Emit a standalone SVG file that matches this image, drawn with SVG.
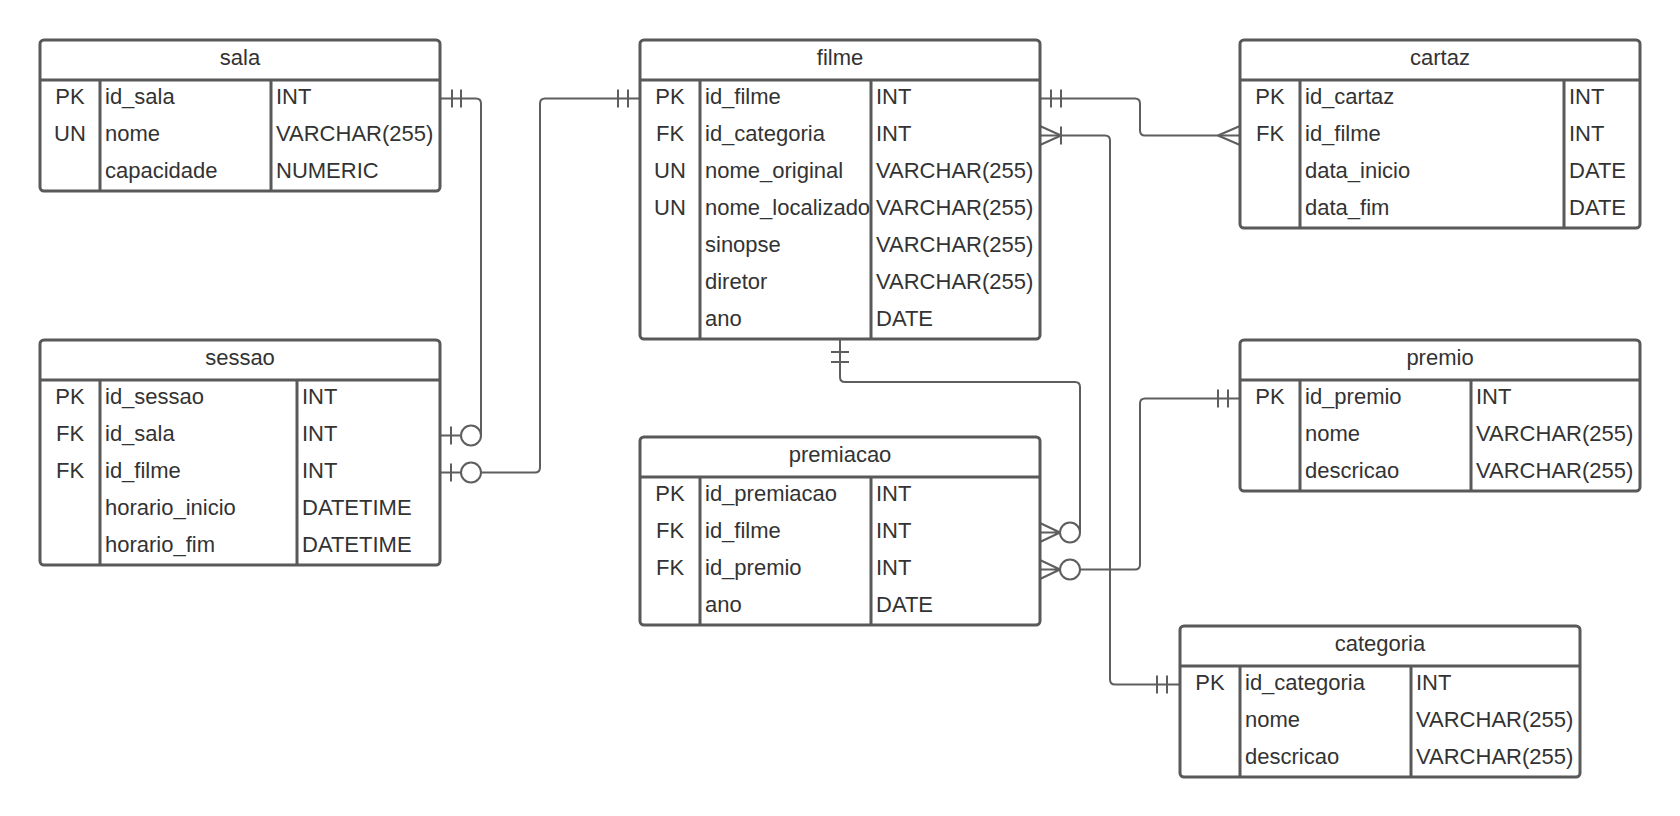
<svg xmlns="http://www.w3.org/2000/svg" width="1680" height="816" viewBox="0 0 1680 816">
  <style>
    .box { fill: #ffffff; stroke: #595959; stroke-width: 3; }
    .sep { stroke: #595959; stroke-width: 3; fill: none; }
    .t { font-family: "Liberation Sans", Arial, sans-serif; font-size: 22px; fill: #333333; }
    .mid { text-anchor: middle; }
    .ln { fill: none; stroke: #5e5e5e; stroke-width: 2; stroke-linejoin: round; }
    .end { fill: #ffffff; stroke: #5e5e5e; stroke-width: 2; }
  </style>

  <!-- relationship lines -->
  <g id="connectors">
    <!-- sala.id_sala 1 : 0..1 sessao.id_sala -->
    <path class="ln" d="M440 98.5 H476 Q481 98.5 481 103.5 V435.5"/>
    <path class="ln" d="M452 89.5 V107.5 M461 89.5 V107.5"/>
    <path class="ln" d="M440 435.5 H461 M451 426.5 V444.5"/>
    <circle class="end" cx="471" cy="435.5" r="10"/>

    <!-- filme.id_filme 1 : 0..1 sessao.id_filme -->
    <path class="ln" d="M481 472.5 H535 Q540 472.5 540 467.5 V103.5 Q540 98.5 545 98.5 H640"/>
    <path class="ln" d="M618 89.5 V107.5 M628 89.5 V107.5"/>
    <path class="ln" d="M440 472.5 H461 M451 463.5 V481.5"/>
    <circle class="end" cx="471" cy="472.5" r="10"/>

    <!-- filme.id_filme 1 : N cartaz.id_filme -->
    <path class="ln" d="M1040 98.5 H1135 Q1140 98.5 1140 103.5 V130.5 Q1140 135.5 1145 135.5 H1240"/>
    <path class="ln" d="M1051 89.5 V107.5 M1061 89.5 V107.5"/>
    <path class="ln" d="M1218 135.5 L1240 126 M1218 135.5 L1240 145"/>

    <!-- categoria.id_categoria 1 : 1..N filme.id_categoria -->
    <path class="ln" d="M1040 135.5 H1105 Q1110 135.5 1110 140.5 V679.5 Q1110 684.5 1115 684.5 H1180"/>
    <path class="ln" d="M1061 126.5 V144.5 M1061 135.5 L1040 126 M1061 135.5 L1040 145"/>
    <path class="ln" d="M1157 675.5 V693.5 M1167 675.5 V693.5"/>

    <!-- filme 1 : 0..N premiacao.id_filme -->
    <path class="ln" d="M840 339 V377 Q840 382 845 382 H1075 Q1080 382 1080 387 V532.5"/>
    <path class="ln" d="M831 352 H849 M831 362 H849"/>
    <path class="ln" d="M1040 532.5 H1060 M1060 532.5 L1040 523 M1060 532.5 L1040 542"/>
    <circle class="end" cx="1070" cy="532.5" r="10"/>

    <!-- premio.id_premio 1 : 0..N premiacao.id_premio -->
    <path class="ln" d="M1080 569.5 H1135 Q1140 569.5 1140 564.5 V403.5 Q1140 398.5 1145 398.5 H1240"/>
    <path class="ln" d="M1218 389.5 V407.5 M1228 389.5 V407.5"/>
    <path class="ln" d="M1040 569.5 H1060 M1060 569.5 L1040 560 M1060 569.5 L1040 579"/>
    <circle class="end" cx="1070" cy="569.5" r="10"/>
  </g>

  <!-- sala -->
  <g id="sala">
    <rect class="box" x="40" y="40" width="400" height="151" rx="4"/>
    <path class="sep" d="M40 80 H440 M100 80 V191 M271 80 V191"/>
    <text class="t mid" x="240" y="65">sala</text>
    <text class="t mid" x="70" y="104">PK</text>
    <text class="t" x="105" y="104">id_sala</text>
    <text class="t" x="276" y="104">INT</text>
    <text class="t mid" x="70" y="141">UN</text>
    <text class="t" x="105" y="141">nome</text>
    <text class="t" x="276" y="141">VARCHAR(255)</text>
    <text class="t" x="105" y="178">capacidade</text>
    <text class="t" x="276" y="178">NUMERIC</text>
  </g>

  <!-- sessao -->
  <g id="sessao">
    <rect class="box" x="40" y="340" width="400" height="225" rx="4"/>
    <path class="sep" d="M40 380 H440 M100 380 V565 M297 380 V565"/>
    <text class="t mid" x="240" y="365">sessao</text>
    <text class="t mid" x="70" y="404">PK</text>
    <text class="t" x="105" y="404">id_sessao</text>
    <text class="t" x="302" y="404">INT</text>
    <text class="t mid" x="70" y="441">FK</text>
    <text class="t" x="105" y="441">id_sala</text>
    <text class="t" x="302" y="441">INT</text>
    <text class="t mid" x="70" y="478">FK</text>
    <text class="t" x="105" y="478">id_filme</text>
    <text class="t" x="302" y="478">INT</text>
    <text class="t" x="105" y="515">horario_inicio</text>
    <text class="t" x="302" y="515">DATETIME</text>
    <text class="t" x="105" y="552">horario_fim</text>
    <text class="t" x="302" y="552">DATETIME</text>
  </g>

  <!-- filme -->
  <g id="filme">
    <rect class="box" x="640" y="40" width="400" height="299" rx="4"/>
    <path class="sep" d="M640 80 H1040 M700 80 V339 M871 80 V339"/>
    <text class="t mid" x="840" y="65">filme</text>
    <text class="t mid" x="670" y="104">PK</text>
    <text class="t" x="705" y="104">id_filme</text>
    <text class="t" x="876" y="104">INT</text>
    <text class="t mid" x="670" y="141">FK</text>
    <text class="t" x="705" y="141">id_categoria</text>
    <text class="t" x="876" y="141">INT</text>
    <text class="t mid" x="670" y="178">UN</text>
    <text class="t" x="705" y="178">nome_original</text>
    <text class="t" x="876" y="178">VARCHAR(255)</text>
    <text class="t mid" x="670" y="215">UN</text>
    <text class="t" x="705" y="215">nome_localizado</text>
    <text class="t" x="876" y="215">VARCHAR(255)</text>
    <text class="t" x="705" y="252">sinopse</text>
    <text class="t" x="876" y="252">VARCHAR(255)</text>
    <text class="t" x="705" y="289">diretor</text>
    <text class="t" x="876" y="289">VARCHAR(255)</text>
    <text class="t" x="705" y="326">ano</text>
    <text class="t" x="876" y="326">DATE</text>
  </g>

  <!-- premiacao -->
  <g id="premiacao">
    <rect class="box" x="640" y="437" width="400" height="188" rx="4"/>
    <path class="sep" d="M640 477 H1040 M700 477 V625 M871 477 V625"/>
    <text class="t mid" x="840" y="462">premiacao</text>
    <text class="t mid" x="670" y="501">PK</text>
    <text class="t" x="705" y="501">id_premiacao</text>
    <text class="t" x="876" y="501">INT</text>
    <text class="t mid" x="670" y="538">FK</text>
    <text class="t" x="705" y="538">id_filme</text>
    <text class="t" x="876" y="538">INT</text>
    <text class="t mid" x="670" y="575">FK</text>
    <text class="t" x="705" y="575">id_premio</text>
    <text class="t" x="876" y="575">INT</text>
    <text class="t" x="705" y="612">ano</text>
    <text class="t" x="876" y="612">DATE</text>
  </g>

  <!-- cartaz -->
  <g id="cartaz">
    <rect class="box" x="1240" y="40" width="400" height="188" rx="4"/>
    <path class="sep" d="M1240 80 H1640 M1300 80 V228 M1564 80 V228"/>
    <text class="t mid" x="1440" y="65">cartaz</text>
    <text class="t mid" x="1270" y="104">PK</text>
    <text class="t" x="1305" y="104">id_cartaz</text>
    <text class="t" x="1569" y="104">INT</text>
    <text class="t mid" x="1270" y="141">FK</text>
    <text class="t" x="1305" y="141">id_filme</text>
    <text class="t" x="1569" y="141">INT</text>
    <text class="t" x="1305" y="178">data_inicio</text>
    <text class="t" x="1569" y="178">DATE</text>
    <text class="t" x="1305" y="215">data_fim</text>
    <text class="t" x="1569" y="215">DATE</text>
  </g>

  <!-- premio -->
  <g id="premio">
    <rect class="box" x="1240" y="340" width="400" height="151" rx="4"/>
    <path class="sep" d="M1240 380 H1640 M1300 380 V491 M1471 380 V491"/>
    <text class="t mid" x="1440" y="365">premio</text>
    <text class="t mid" x="1270" y="404">PK</text>
    <text class="t" x="1305" y="404">id_premio</text>
    <text class="t" x="1476" y="404">INT</text>
    <text class="t" x="1305" y="441">nome</text>
    <text class="t" x="1476" y="441">VARCHAR(255)</text>
    <text class="t" x="1305" y="478">descricao</text>
    <text class="t" x="1476" y="478">VARCHAR(255)</text>
  </g>

  <!-- categoria -->
  <g id="categoria">
    <rect class="box" x="1180" y="626" width="400" height="151" rx="4"/>
    <path class="sep" d="M1180 666 H1580 M1240 666 V777 M1411 666 V777"/>
    <text class="t mid" x="1380" y="651">categoria</text>
    <text class="t mid" x="1210" y="690">PK</text>
    <text class="t" x="1245" y="690">id_categoria</text>
    <text class="t" x="1416" y="690">INT</text>
    <text class="t" x="1245" y="727">nome</text>
    <text class="t" x="1416" y="727">VARCHAR(255)</text>
    <text class="t" x="1245" y="764">descricao</text>
    <text class="t" x="1416" y="764">VARCHAR(255)</text>
  </g>
</svg>
